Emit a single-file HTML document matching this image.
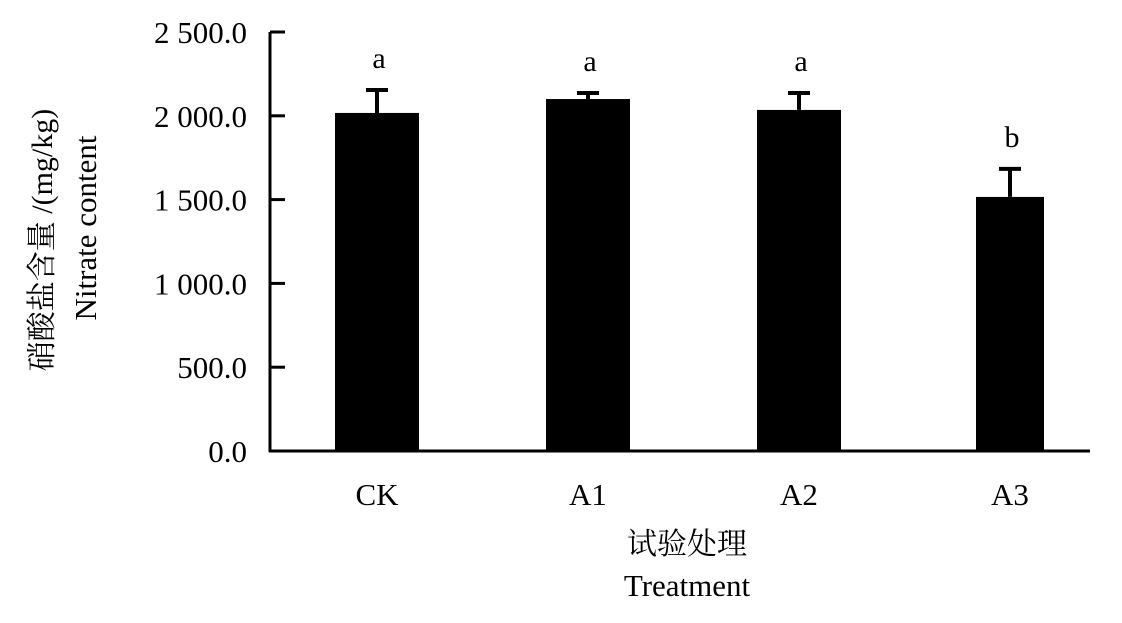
<!DOCTYPE html>
<html><head><meta charset="utf-8"><style>
html,body{margin:0;padding:0;background:#fff;}
svg text{font-family:"Liberation Serif","Noto Serif CJK SC",serif;fill:#000;}
</style></head><body>
<svg id="chart" width="1122" height="618" viewBox="0 0 1122 618" xmlns="http://www.w3.org/2000/svg">
<g id="axes"></g>
<g id="bars"></g>
<text transform="translate(52,240) rotate(-90)" text-anchor="middle" font-size="30" font-family="'Noto Serif CJK SC',serif">硝酸盐含量 /(mg/kg)</text>
<text transform="translate(96,228) rotate(-90)" text-anchor="middle" font-size="31" font-family="'Liberation Mono',monospace">Nitrate content</text>
<text x="687" y="554" text-anchor="middle" font-size="30" font-family="'Noto Serif CJK SC',serif">试验处理</text>
<text x="687" y="596" text-anchor="middle" font-size="31" font-family="'Liberation Mono',monospace">Treatment</text>
</svg>
<script>
const categories = ["CK","A1","A2","A3"];
const values = [2017, 2100, 2035, 1516];
const errors = [137, 36, 101, 167];
const letters = ["a","a","a","b"];
const yTicks = [0,500,1000,1500,2000,2500];
const yTickLabels = ["0.0","500.0","1 000.0","1 500.0","2 000.0","2 500.0"];

const NS="http://www.w3.org/2000/svg";
const x0=270, x1=1090, yBase=451, yTop=32, yMax=2500;
function yScale(v){return yBase-(v/yMax)*(yBase-yTop);}
const band=(x1-x0)/categories.length*0.99;
function xCenter(i){return 377+i*(1010-377)/3;}
const barW=84;
function mk(tag,attrs,parent){const e=document.createElementNS(NS,tag);for(const k in attrs)e.setAttribute(k,attrs[k]);parent.appendChild(e);return e;}
const axes=document.getElementById('axes'), bars=document.getElementById('bars');
let l=mk('line',{x1:x0,y1:yTop,x2:x0,y2:yBase+1,stroke:'#000','stroke-width':3},axes);


l=mk('line',{x1:x0-1,y1:yBase,x2:x1,y2:yBase,stroke:'#000','stroke-width':3},axes);


yTicks.forEach((t,i)=>{
  const y=yScale(t);
  const tk=mk('line',{x1:x0,y1:y,x2:x0+15,y2:y,stroke:'#000','stroke-width':3},axes);
  
  
  const tx=mk('text',{x:247,y:y+11,'text-anchor':'end','font-size':31},axes);
  tx.textContent=yTickLabels[i];
  
  
});
categories.forEach((c,i)=>{
  const cx=xCenter(i), w=(i===3?68:barW);
  const yv=yScale(values[i]), ye=yScale(values[i]+errors[i]);
  const r=mk('rect',{x:cx-w/2,y:yv,width:w,height:yBase-yv,fill:'#000'},bars);
  
  
  const e=mk('path',{d:`M${cx},${yv} V${ye} M${cx-11},${ye} H${cx+11}`,stroke:'#000','stroke-width':4,fill:'none'},bars);
  
  
  const lt=mk('text',{x:cx+2,y:ye-22,'text-anchor':'middle','font-size':30},bars);
  lt.textContent=letters[i];
  
  
  const xl=mk('text',{x:cx,y:505,'text-anchor':'middle','font-size':31},axes);
  xl.textContent=c;
  
  
});
</script>
</body></html>
